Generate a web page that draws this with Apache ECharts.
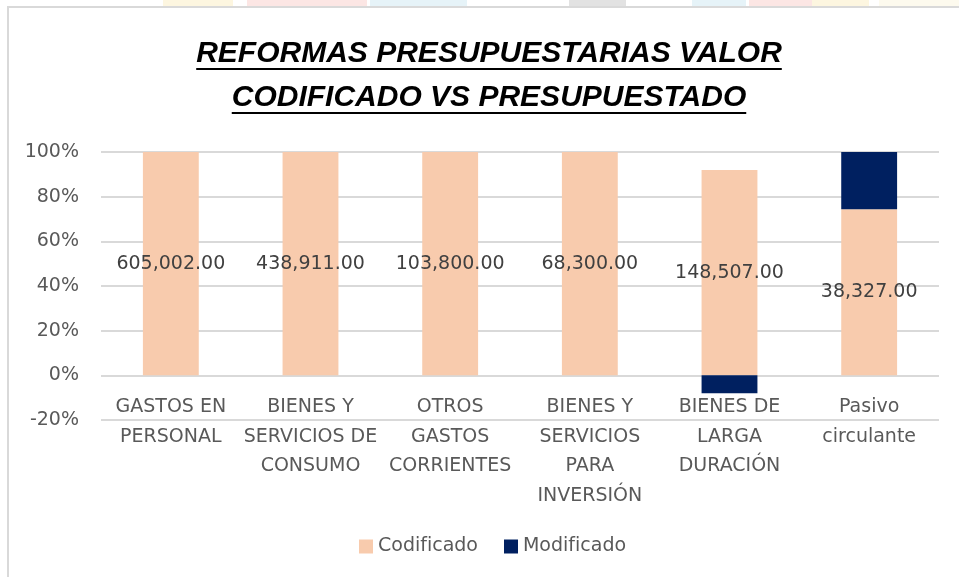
<!DOCTYPE html>
<html lang="es">
<head>
    <meta charset="UTF-8">
    <title>Reformas presupuestarias</title>
    <script src="https://cdn.jsdelivr.net/npm/echarts@6/dist/echarts.min.js"></script>
    <style>
        html, body { margin: 0; padding: 0; background: #fff; }
        #chart { width: 959px; height: 577px; }
    </style>
</head>
<body>
<div id="chart"></div>
<script>
    const categories = [
        'GASTOS EN\nPERSONAL',
        'BIENES Y\nSERVICIOS DE\nCONSUMO',
        'OTROS\nGASTOS\nCORRIENTES',
        'BIENES Y\nSERVICIOS\nPARA\nINVERSIÓN',
        'BIENES DE\nLARGA\nDURACIÓN',
        'Pasivo\ncirculante'
    ];
    const codificado = [605002, 438911, 103800, 68300, 148507, 38327];
    const modificado = [0, 0, 0, 0, -13000, 13200];
    const seriesNames = ['Codificado', 'Modificado'];
    const titleLines = ['REFORMAS PRESUPUESTARIAS VALOR', 'CODIFICADO VS PRESUPUESTADO'];

    // 100% stacked like Excel: share of the sum of absolute values
    const totals = categories.map((c, i) => Math.abs(codificado[i]) + Math.abs(modificado[i]));
    const pct = arr => arr.map((v, i) => totals[i] ? v / totals[i] * 100 : 0);

    const fmt = v => v.toLocaleString('en-US', { minimumFractionDigits: 2, maximumFractionDigits: 2 });

    const titleFont = 'italic bold 30px "Liberation Sans"';
    const ctx = document.createElement('canvas').getContext('2d');
    ctx.font = titleFont;
    const titleX = 489;
    const titleBase = [69, 113];

    const graphics = [
        // faint watermark strip at the very top
        { type: 'rect', shape: { x: 163, y: 0, width: 70, height: 6 }, style: { fill: '#fdf6e0' }, z: 0 },
        { type: 'rect', shape: { x: 247, y: 0, width: 120, height: 6 }, style: { fill: '#fce6e4' }, z: 0 },
        { type: 'rect', shape: { x: 370, y: 0, width: 97, height: 6 }, style: { fill: '#e6f3f8' }, z: 0 },
        { type: 'rect', shape: { x: 569, y: 0, width: 57, height: 6 }, style: { fill: '#e2e2e2' }, z: 0 },
        { type: 'rect', shape: { x: 692, y: 0, width: 54, height: 6 }, style: { fill: '#e6f3f8' }, z: 0 },
        { type: 'rect', shape: { x: 749, y: 0, width: 63, height: 6 }, style: { fill: '#fce6e4' }, z: 0 },
        { type: 'rect', shape: { x: 812, y: 0, width: 57, height: 6 }, style: { fill: '#fdf6e0' }, z: 0 },
        { type: 'rect', shape: { x: 879, y: 0, width: 80, height: 6 }, style: { fill: '#fdfaee' }, z: 0 },
        // chart area border
        { type: 'rect', shape: { x: 8, y: 7, width: 1000, height: 700 },
          style: { fill: 'none', stroke: '#d9d9d9', lineWidth: 2 }, z: 1 }
    ];

    titleLines.forEach((t, i) => {
        const w = ctx.measureText(t).width;
        graphics.push({
            type: 'text', x: titleX, y: titleBase[i],
            style: { text: t, font: titleFont, fill: '#000', align: 'center', verticalAlign: 'bottom' }
        });
        graphics.push({
            type: 'line', shape: { x1: titleX - w / 2, y1: titleBase[i], x2: titleX + w / 2, y2: titleBase[i] },
            style: { stroke: '#000', lineWidth: 2 }
        });
    });

    const chart = echarts.init(document.getElementById('chart'));
    chart.setOption({
        animation: false,
        textStyle: { fontFamily: 'DejaVu Sans' },
        graphic: graphics,
        grid: { left: 101, right: 20, top: 152, bottom: 157 },
        legend: {
            left: 354, top: 532,
            itemWidth: 14, itemHeight: 14, itemGap: 26,
            icon: 'rect',
            textStyle: { fontSize: 19, color: '#595959', fontFamily: 'DejaVu Sans' },
            data: seriesNames
        },
        xAxis: {
            type: 'category',
            data: categories,
            // category labels hang from the 0% line (one 20% step above the bottom)
            offset: -44.6,
            axisLine: { show: false, onZero: false },
            axisTick: { show: false },
            axisLabel: {
                interval: 0, margin: 17, fontSize: 19, lineHeight: 29.5,
                color: '#595959', fontFamily: 'DejaVu Sans'
            }
        },
        yAxis: {
            type: 'value',
            min: -20, max: 100, interval: 20,
            axisLine: { show: false },
            axisTick: { show: false },
            splitLine: { lineStyle: { color: '#d9d9d9', width: 2 } },
            axisLabel: {
                formatter: '{value}%', fontSize: 19, color: '#595959',
                margin: 22, fontFamily: 'DejaVu Sans'
            }
        },
        series: [
            {
                name: seriesNames[0], type: 'bar', stack: 'total', barWidth: '40%',
                data: pct(codificado),
                itemStyle: { color: '#F8CBAD' },
                label: {
                    show: true, position: 'inside', fontSize: 19, color: '#404040',
                    fontFamily: 'DejaVu Sans',
                    formatter: p => fmt(codificado[p.dataIndex])
                }
            },
            {
                name: seriesNames[1], type: 'bar', stack: 'total', barWidth: '40%',
                data: pct(modificado),
                itemStyle: { color: '#002060' }
            }
        ]
    });
</script>
</body>
</html>
